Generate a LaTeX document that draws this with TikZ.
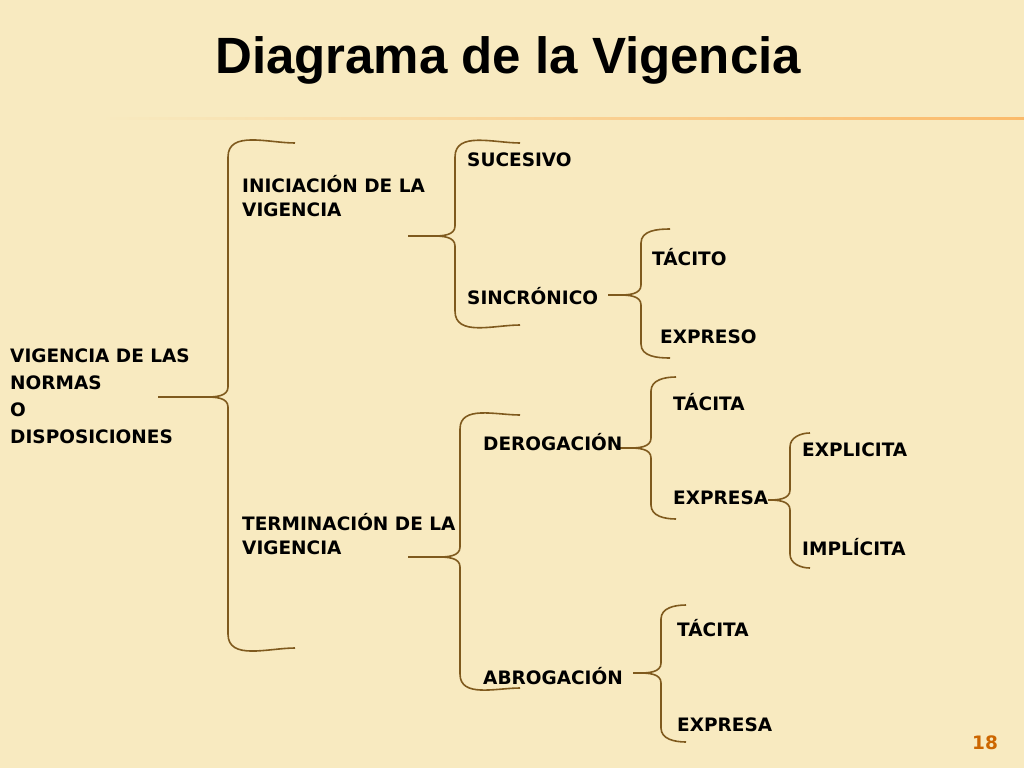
\documentclass[tikz,border=0pt]{standalone}
\usepackage{fontspec}
\setmainfont{DejaVu Sans}
\newfontfamily\titlefont{Liberation Sans}
\begin{document}
\begin{tikzpicture}[x=1pt,y=-1pt,
  lbl/.style={anchor=west,inner sep=0pt,font=\fontsize{18.5}{24}\selectfont\bfseries,align=left,text=black},
  brace/.style={draw=braceclr,line width=1.6pt}]
\definecolor{braceclr}{HTML}{7F5A1E}
\definecolor{bg}{HTML}{F8EAC0}
\fill[bg] (0,0) rectangle (1024,768);
\useasboundingbox (0,0) rectangle (1024,768);
\shade[left color=bg, right color=orange!45!bg] (100,117) rectangle (1024,119);
\node[anchor=west,inner sep=0pt,font=\titlefont\fontsize{51}{56}\selectfont\bfseries] (title) at (215,60) {Diagrama de la Vigencia};
\newcommand\mybrace[6]{%
 \draw[brace] (#5,#2) to[out=180,in=90] (#1,#2+14) -- (#1,#4-10) to[out=-90,in=0] (#1-22,#4) -- (#6,#4);
 \draw[brace] (#1-22,#4) to[out=0,in=90] (#1,#4+10) -- (#1,#3-14) to[out=-90,in=180] (#5,#3);}
\mybrace{228}{143}{648}{397}{295}{158}
\mybrace{455}{143}{325}{236}{520}{408}
\mybrace{641}{229}{358}{295}{670}{608}
\mybrace{460}{415}{688}{557}{520}{408}
\mybrace{651}{377}{519}{448}{676}{620}
\mybrace{790}{433}{568}{500}{810}{773}
\mybrace{661}{605}{742}{673}{686}{633}
\node[lbl] (vig) at (10,396) {VIGENCIA DE LAS\\[3pt]NORMAS\\[3pt]O\\[3pt]DISPOSICIONES};
\node[lbl] (ini) at (242,196) {INICIACIÓN DE LA\\VIGENCIA};
\node[lbl] (ter) at (242,534) {TERMINACIÓN DE LA\\VIGENCIA};
\node[lbl] (suc) at (467,160) {SUCESIVO};
\node[lbl] (sin) at (467,296) {SINCRÓNICO};
\node[lbl] (tac1) at (652,257) {TÁCITO};
\node[lbl] (exp1) at (660,337) {EXPRESO};
\node[lbl] (der) at (483,442) {DEROGACIÓN};
\node[lbl] (tac2) at (673,402) {TÁCITA};
\node[lbl] (exp2) at (673,498) {EXPRESA};
\node[lbl] (expl) at (802,450) {EXPLICITA};
\node[lbl] (impl) at (802,547) {IMPLÍCITA};
\node[lbl] (abr) at (483,676) {ABROGACIÓN};
\node[lbl] (tac3) at (677,628) {TÁCITA};
\node[lbl] (exp3) at (677,725) {EXPRESA};
\node[lbl,text=orange!80!black] (num) at (972,743) {18};
\end{tikzpicture}
\end{document}
